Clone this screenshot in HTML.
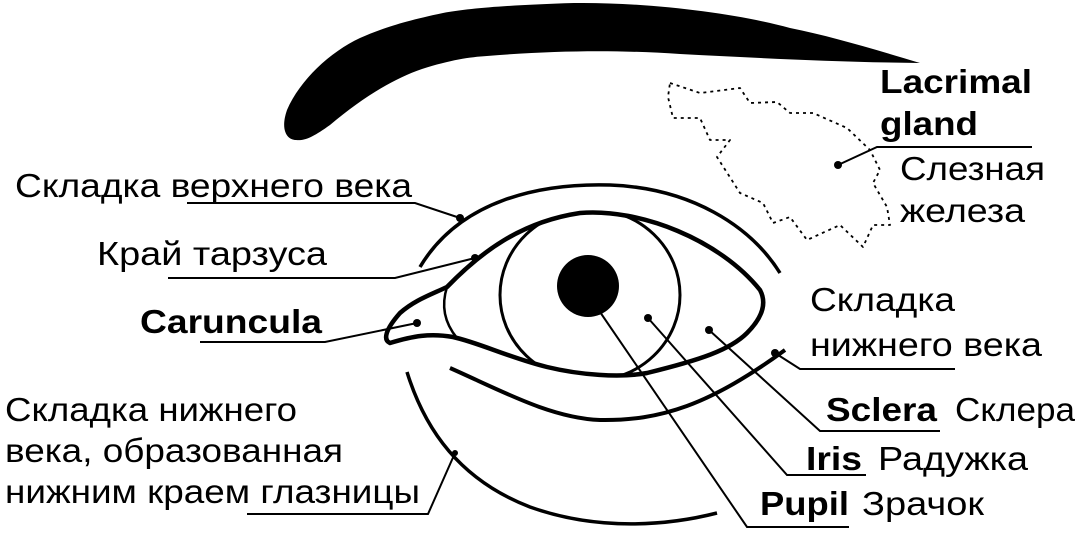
<!DOCTYPE html>
<html><head><meta charset="utf-8"><style>
html,body{margin:0;padding:0;background:#fff;}
svg{display:block;}
text{font-family:"Liberation Sans",Arial,sans-serif;font-size:33px;fill:#000;}
.b{font-weight:bold;}
</style></head><body>
<svg width="1082" height="533" viewBox="0 0 1082 533" xmlns="http://www.w3.org/2000/svg">
<defs><clipPath id="eye"><path d="M447,287 C480,253 520,222 580,213 C640,208 720,240 760,290 C768,305 760,320 747,333 C730,350 700,360 647,373 C620,378 580,375 547,367 C510,358 480,343 453,337 C430,333 413,336 390,343 C383,340 385,330 400,313 C415,300 430,295 447,287 Z"/></clipPath></defs>
<path d="M920,63 C870,48 830,36 790,28 C740,14 650,2 574,3 C510,5 470,8 443,13 C400,22 378,30 360,38 C330,52 300,80 287,110 C280,130 287,140 296,140 C305,141 313,137 330,125 C360,100 390,80 422,69 C450,60 470,57 487,56 C560,50 620,50 680,54 C760,58 830,62 920,63 Z" fill="#000"/>
<path d="M670,83 L700,93 L740,88 L750,103 L777,102 L790,113 L813,113 L847,128 L870,150 L880,170 L873,183 L887,207 L890,225 L873,225 L863,247 L840,225 L807,240 L790,217 L773,223 L763,203 L740,193 L717,157 L730,140 L710,140 L700,118 L673,118 L668,97 Z" fill="none" stroke="#000" stroke-width="1.8" stroke-dasharray="3 4" stroke-linejoin="round"/>
<path d="M420,267 C460,200 540,183 610,185 C690,188 750,225 780,273" fill="none" stroke="#000" stroke-width="3.5"/>
<g clip-path="url(#eye)"><ellipse cx="590" cy="295" rx="90" ry="86" fill="none" stroke="#000" stroke-width="3"/></g>
<path d="M447,287 C480,253 520,222 580,213 C640,208 720,240 760,290 C768,305 760,320 747,333 C730,350 700,360 647,373 C620,378 580,375 547,367 C510,358 480,343 453,337 C430,333 413,336 390,343 C383,340 385,330 400,313 C415,300 430,295 447,287 Z" fill="none" stroke="#000" stroke-width="4.5" stroke-linejoin="round"/>
<path d="M447,287 Q438,315 457,338" fill="none" stroke="#000" stroke-width="2.5"/>
<circle cx="588" cy="286" r="31" fill="#000"/>
<path d="M450,368 C500,390 550,418 600,420 C660,421 710,405 785,350" fill="none" stroke="#000" stroke-width="4"/>
<path d="M407,372 C425,430 460,480 530,507 C600,532 670,525 717,513" fill="none" stroke="#000" stroke-width="3.5"/>
<g fill="none" stroke="#000" stroke-width="2">
<polyline points="187,203 415,203 460,218"/>
<polyline points="168,278 395,278 475,258"/>
<polyline points="200,342 325,342 417,323"/>
<polyline points="247,514 428,514 455,453"/>
<polyline points="1032,147 877,147 838,165"/>
<polyline points="955,369 800,369 775,353"/>
<polyline points="940,431 820,431 709,330"/>
<polyline points="866,475 787,475 648,318"/>
<polyline points="849,527 747,527 600,312"/>
</g>
<g fill="#000">
<circle cx="460" cy="218" r="4"/><circle cx="475" cy="258" r="4"/><circle cx="417" cy="323" r="4"/>
<circle cx="455" cy="453" r="3"/><circle cx="838" cy="165" r="4"/><circle cx="775" cy="353" r="4"/>
<circle cx="709" cy="330" r="4"/><circle cx="648" cy="318" r="4"/>
</g>
<text x="15" y="197" textLength="397" lengthAdjust="spacingAndGlyphs">Складка верхнего века</text>
<text x="97" y="265" textLength="230" lengthAdjust="spacingAndGlyphs">Край тарзуса</text>
<text x="140" y="333" class="b" textLength="182" lengthAdjust="spacingAndGlyphs">Caruncula</text>
<text x="5" y="421" textLength="292" lengthAdjust="spacingAndGlyphs">Складка нижнего</text>
<text x="5" y="462" textLength="338" lengthAdjust="spacingAndGlyphs">века, образованная</text>
<text x="5" y="503" textLength="415" lengthAdjust="spacingAndGlyphs">нижним краем глазницы</text>
<text x="880" y="93" class="b" textLength="152" lengthAdjust="spacingAndGlyphs">Lacrimal</text>
<text x="880" y="135" class="b" textLength="98" lengthAdjust="spacingAndGlyphs">gland</text>
<text x="900" y="180" textLength="145" lengthAdjust="spacingAndGlyphs">Слезная</text>
<text x="900" y="222" textLength="125" lengthAdjust="spacingAndGlyphs">железа</text>
<text x="810" y="311" textLength="145" lengthAdjust="spacingAndGlyphs">Складка</text>
<text x="810" y="356" textLength="232" lengthAdjust="spacingAndGlyphs">нижнего века</text>
<text x="826" y="421" class="b" textLength="111" lengthAdjust="spacingAndGlyphs">Sclera</text>
<text x="955" y="421" textLength="120" lengthAdjust="spacingAndGlyphs">Склера</text>
<text x="806" y="470" class="b" textLength="56" lengthAdjust="spacingAndGlyphs">Iris</text>
<text x="878" y="470" textLength="150" lengthAdjust="spacingAndGlyphs">Радужка</text>
<text x="760" y="515" class="b" textLength="89" lengthAdjust="spacingAndGlyphs">Pupil</text>
<text x="862" y="515" textLength="122" lengthAdjust="spacingAndGlyphs">Зрачок</text>
</svg>
</body></html>
